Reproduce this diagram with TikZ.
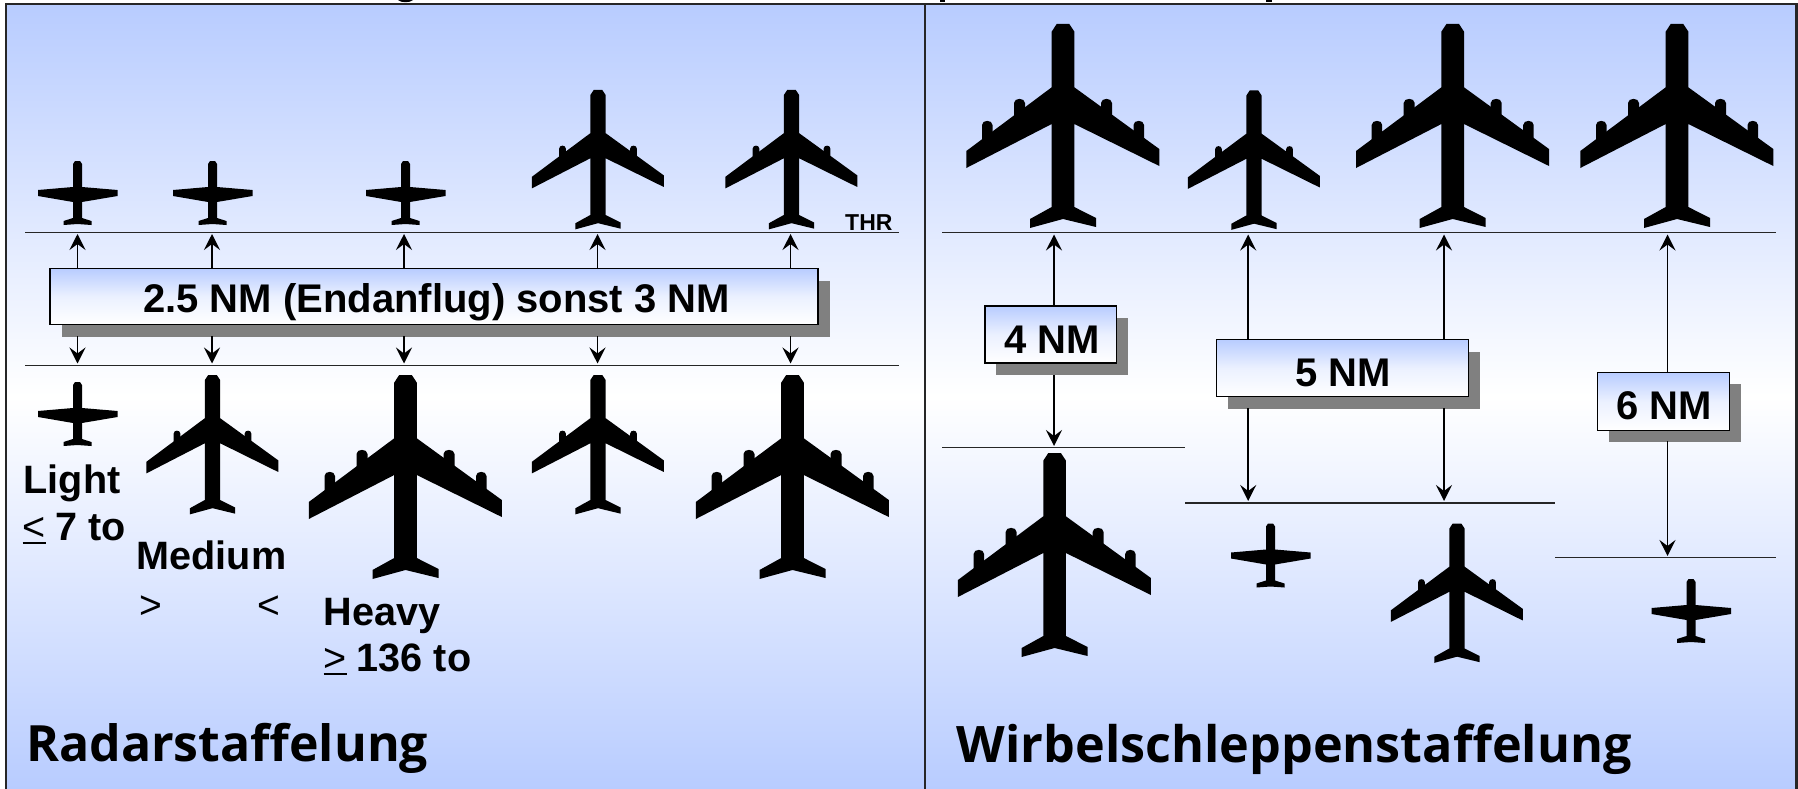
\documentclass[tikz,border=0pt]{standalone}
\usepackage{fontspec}
\setmainfont{Liberation Sans}
\newfontfamily\titlefont{Open Sans}
\usetikzlibrary{arrows.meta,shadows}
\definecolor{skyb}{RGB}{184,204,255}
\definecolor{shgray}{RGB}{128,128,128}
\newcommand{\ulsym}[1]{\vtop{\hbox{\mdseries #1}\kern1.5pt\hrule height 2pt}}
\tikzset{
  heavyplane/.pic={
    \fill (-6.3,0) -- (6.3,0) -- (11.3,7.6) -- (11.3,63.3) -- (96.3,125) -- (96.3,142) -- (11.3,100)
      -- (11.3,183) -- (33,194) -- (33,203) -- (0,195) -- (-33,204) -- (-33,195) -- (-11.3,183)
      -- (-11.3,100) -- (-96.7,144) -- (-96.7,127) -- (-11.3,63.3) -- (-11.3,7.6) -- cycle;
    \foreach \s in {1,-1}{
      \fill (\s*38,95) -- (\s*38,79) .. controls (\s*38,73.5) and (\s*49,73.5) .. (\s*49,79) -- (\s*49,95) -- cycle;
      \fill (\s*70.5,118) -- (\s*70.5,101) .. controls (\s*70.5,95.5) and (\s*81,95.5) .. (\s*81,101) -- (\s*81,118) -- cycle;
    }
  },
  mediumplane/.pic={
    \begin{scope}[scale=0.683]
    \fill (-6.3,0) -- (6.3,0) -- (11.3,7.6) -- (11.3,63.3) -- (96.3,125) -- (96.3,142) -- (11.3,100)
      -- (11.3,183) -- (33,194) -- (33,203) -- (0,195) -- (-33,204) -- (-33,195) -- (-11.3,183)
      -- (-11.3,100) -- (-96.7,144) -- (-96.7,127) -- (-11.3,63.3) -- (-11.3,7.6) -- cycle;
    \foreach \s in {1,-1}{
      \fill (\s*47,102) -- (\s*47,86) .. controls (\s*47,80) and (\s*57,80) .. (\s*57,86) -- (\s*57,102) -- cycle;
    }
    \end{scope}
  },
  lightplane/.pic={
    \fill (-2.5,0) -- (2.5,0) -- (4.5,3) -- (4.5,26) -- (40,29) -- (40,35) -- (4.5,41) -- (4.5,57)
      -- (14,60) -- (14,64) -- (0,63) -- (-14,64) -- (-14,60) -- (-4.5,57) -- (-4.5,41) -- (-39.5,35)
      -- (-39.5,29) -- (-4.5,26) -- (-4.5,3) -- cycle;
  },
  bg/.style={top color=skyb,bottom color=skyb,middle color=white},
  frameline/.style={line width=2.2pt,draw=black!85},
  runway/.style={line width=1.4pt,draw=black!85},
  arr/.style={line width=1.8pt,-{Stealth[length=16pt,width=16pt,inset=6pt]}},
  nmbox/.style={draw=black,line width=1.4pt,top color=skyb,bottom color=white,middle color=skyb!28!white,
    inner sep=0pt,minimum height=#1,text height=0pt,text depth=0pt,
    font=\fontsize{40}{40}\bfseries\selectfont,
    drop shadow={opacity=1,fill=shgray,shadow xshift=11.5pt,shadow yshift=-12pt}},
  lbl/.style={anchor=base west,inner sep=0pt,font=\fontsize{39.6}{39.6}\bfseries\selectfont},
  sym/.style={anchor=base west,inner sep=0pt,font=\fontsize{39}{39}\selectfont},
  ttl/.style={anchor=base west,inner sep=0pt,font=\fontsize{50}{50}\titlefont\bfseries\selectfont},
}
\begin{document}
\begin{tikzpicture}[x=1pt,y=-1pt]
\useasboundingbox (0,0) rectangle (1798,789);
\fill[white] (0,0) rectangle (1798,789);
% panels
\shade[bg] (6,4) rectangle (925,789);
\shade[bg] (925,4) rectangle (1796,789);
% clipped title descenders
\fill (398,0) -- (413,0) .. controls (410,3) and (401,3) .. (398,0) -- cycle;
\fill (940,0) rectangle (945,1.6);
\fill (1266,0) rectangle (1272,1.6);
% frame
\draw[frameline] (6,789) -- (6,4) -- (1798,4);
\draw[frameline] (925,4) -- (925,789);
\draw[frameline] (1796.5,4) -- (1796.5,789);
% runway lines, left
\coordinate (thrA) at (25,232.5);
\coordinate (thrB) at (899,232.5);
\coordinate (lowA) at (25,365.5);
\coordinate (lowB) at (899,365.5);
\draw[runway] (thrA) -- (thrB);
\draw[runway] (lowA) -- (lowB);
% runway lines, right
\coordinate (rtA) at (942,232.5);
\coordinate (rtB) at (1776,232.5);
\coordinate (r4A) at (942,447.5);
\coordinate (r4B) at (1185,447.5);
\coordinate (r5A) at (1185,503);
\coordinate (r5B) at (1555,503);
\coordinate (r6A) at (1555,557.5);
\coordinate (r6B) at (1776,557.5);
\draw[runway] (rtA) -- (rtB);
\draw[runway] (r4A) -- (r4B);
\draw[runway] (r5A) -- (r5B);
\draw[runway] (r6A) -- (r6B);
% boxes
\node[nmbox=56pt,minimum width=768pt] (boxA) at (434,296.5) {\hspace{5pt}\raisebox{-15.5pt}{2.5 NM (Endanflug) sonst 3 NM}};
\node[nmbox=57pt,minimum width=131.5pt] (box4) at (1050.6,334.5) {\hspace{3pt}\raisebox{-18.5pt}{4 NM}};
\node[nmbox=57pt,minimum width=252pt] (box5) at (1342.7,368) {\hspace{1pt}\raisebox{-18.5pt}{5 NM}};
\node[nmbox=58pt,minimum width=131.5pt] (box6) at (1663.5,401.4) {\hspace{1pt}\raisebox{-18.5pt}{6 NM}};
% left arrows
\coordinate (sA) at (0,336);
\foreach \n/\x in {1/77.5,2/212,3/404,4/597.5,5/790.5}{
  \coordinate (up\n) at (\x,234);
  \coordinate (dn\n) at (\x,363.5);
  \draw[arr] (up\n |- boxA.north) -- (up\n);
  \draw[arr] (up\n |- sA) -- (dn\n);
}
% right arrows
\coordinate (u4) at (1054,234.5);
\coordinate (d4) at (1054,446);
\coordinate (s4) at (0,375);
\draw[arr] (u4 |- box4.north) -- (u4);
\draw[arr] (u4 |- s4) -- (d4);
\coordinate (s5) at (0,408);
\coordinate (u5a) at (1248.2,234.5);
\coordinate (d5a) at (1248.2,501);
\coordinate (u5b) at (1444,234.5);
\coordinate (d5b) at (1444,501);
\draw[arr] (u5a |- box5.north) -- (u5a);
\draw[arr] (u5a |- s5) -- (d5a);
\draw[arr] (u5b |- box5.north) -- (u5b);
\draw[arr] (u5b |- s5) -- (d5b);
\coordinate (s6) at (0,441);
\coordinate (u6) at (1667.5,234.5);
\coordinate (d6) at (1667.5,556);
\draw[arr] (u6 |- box6.north) -- (u6);
\draw[arr] (u6 |- s6) -- (d6);
% aircraft, left panel
\pic at (77.5,161) {lightplane};
\pic at (212.5,161) {lightplane};
\pic at (405.5,161) {lightplane};
\pic at (598,90) {mediumplane};
\pic at (791.5,90) {mediumplane};
\pic at (77.5,382) {lightplane};
\pic at (212.5,375) {mediumplane};
\pic at (405.5,375) {heavyplane};
\pic at (598,375) {mediumplane};
\pic at (792.5,375) {heavyplane};
% aircraft, right panel
\pic at (1063,24) {heavyplane};
\pic at (1254,90.5) {mediumplane};
\pic at (1452.7,24) {heavyplane};
\pic at (1677,24) {heavyplane};
\pic at (1054.6,453) {heavyplane};
\pic at (1270.5,523.5) {lightplane};
\pic at (1457,523.5) {mediumplane};
\pic at (1691,579) {lightplane};
% labels
\node[anchor=base west,inner sep=0pt,font=\fontsize{23}{23}\bfseries\selectfont] (thr) at (845,230.5) {THR};
\node[lbl] (light) at (23.5,493) {Light};
\node[lbl] (lightw) at (22.5,540) {\ulsym{<}\hspace{10pt}7 to};
\node[lbl] (medium) at (136.5,569) {Medium};
\node[sym] (medgt) at (139,618) {>};
\node[sym] (medlt) at (257,618) {<};
\node[lbl] (heavy) at (323.5,625) {Heavy};
\node[lbl] (heavyw) at (323.5,671.5) {\ulsym{>}\hspace{10pt}136 to};
\node[ttl] (radar) at (26,761) {Radarstaffelung};
\node[ttl,font=\fontsize{50.3}{50}\titlefont\bfseries\selectfont] (wirbel) at (956.5,762) {Wirbelschleppenstaffelung};
\end{tikzpicture}
\end{document}
